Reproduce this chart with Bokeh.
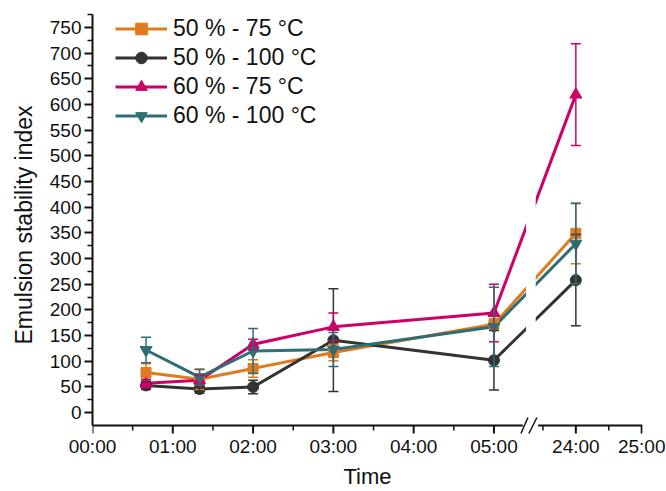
from bokeh.plotting import figure
from bokeh.models import (FixedTicker, Whisker, ColumnDataSource, Legend,
                          LegendItem, TeeHead)
from bokeh.embed import file_html
from bokeh.resources import INLINE

# ---------------- data ----------------
time_min = [40, 80, 120, 180, 300, 1440]          # sampling times (minutes)

series_names = ["50 % - 75 °C", "50 % - 100 °C", "60 % - 75 °C", "60 % - 100 °C"]

esi_50_75 = [78, 65, 86, 117, 172, 349]
err_50_75 = [17, 20, 17, 16, 11, 59]

esi_50_100 = [53, 46, 50, 141, 102, 258]
err_50_100 = [8, 8, 13, 100, 58, 89]

esi_60_75 = [57, 63, 133, 167, 194, 619]
err_60_75 = [8, 10, 10, 27, 56, 99]

esi_60_100 = [122, 69, 120, 123, 167, 329]
err_60_100 = [25, 15, 44, 33, 77, 78]

tick_hours = [0, 1, 2, 3, 4, 5, 24, 25]
tick_labels = ["00:00", "01:00", "02:00", "03:00", "04:00", "05:00", "24:00", "25:00"]
minor_hours = [0.5, 1.5, 2.5, 3.5, 4.5, 23.5, 24.5]
x_title = "Time"
y_title = "Emulsion stability index"
y_ticks = list(range(0, 751, 50))
y_minor = list(range(25, 776, 50))

# ---------------- broken x-axis mapping ----------------
RIGHT_ORIGIN = 6.02   # axis position of 24:00
RIGHT_SCALE = 0.82    # compression of the segment after the break
LEFT_END = 5.36       # end of first axis segment
RIGHT_START = 5.55    # start of second axis segment
GAP_L, GAP_R = 5.40, 5.52


def to_axis(hours):
    if hours <= 6:
        return hours
    return RIGHT_ORIGIN + (hours - 24) * RIGHT_SCALE


W, H = 666, 491
LEFT, TOP, RIGHT = 92, 14, 24
AXIS_PX = 425                      # pixel row of the x-axis line
FRAME_BOTTOM = 435                 # frame ends a little below the axis line
Y_AXIS, Y1 = -25, 775
UPP = (Y1 - Y_AXIS) / (AXIS_PX - TOP)          # y data units per pixel
Y0 = Y_AXIS - (FRAME_BOTTOM - AXIS_PX) * UPP
X0, X1 = 0, to_axis(25) + 0.01

colors = ["#E07A1F", "#333333", "#CC0066", "#2F6E74"]
markers = ["square", "circle", "triangle", "inverted_triangle"]
msizes = [10, 11, 12, 12]
values = [esi_50_75, esi_50_100, esi_60_75, esi_60_100]
errors = [err_50_75, err_50_100, err_60_75, err_60_100]

p = figure(width=W, height=H, output_backend="svg", toolbar_location=None,
           x_range=(X0, X1), y_range=(Y0, Y1),
           min_border_left=LEFT, min_border_right=RIGHT, min_border_top=TOP,
           min_border_bottom=H - FRAME_BOTTOM)
p.outline_line_color = None
p.xgrid.visible = False
p.ygrid.visible = False

xs = [to_axis(m / 60.0) for m in time_min]

line_renderers = []
for vals, col in zip(values, colors):
    src = ColumnDataSource(dict(x=xs, y=vals))
    line_renderers.append(p.line("x", "y", source=src, line_color=col, line_width=3))

# white gap at the axis break
p.quad(left=[GAP_L], right=[GAP_R], bottom=[Y_AXIS + 2], top=[Y1],
       fill_color="white", line_color=None)

legend_items = []
for name, vals, errs, col, mk, ms, lr in zip(series_names, values, errors, colors,
                                             markers, msizes, line_renderers):
    src = ColumnDataSource(dict(x=xs, y=vals,
                                lower=[v - e for v, e in zip(vals, errs)],
                                upper=[v + e for v, e in zip(vals, errs)]))
    w = Whisker(source=src, base="x", upper="upper", lower="lower",
                line_color=col, line_width=1.5,
                upper_head=TeeHead(size=10, line_color=col, line_width=1.5),
                lower_head=TeeHead(size=10, line_color=col, line_width=1.5))
    w.level = "glyph"
    p.add_layout(w)
    mr = p.scatter("x", "y", source=src, marker=mk, size=ms,
                   fill_color=col, line_color=col)
    legend_items.append(LegendItem(label=name, renderers=[lr, mr]))

legend = Legend(items=legend_items, location=(23, FRAME_BOTTOM - TOP - 116))
legend.border_line_color = None
legend.background_fill_alpha = 0
legend.padding = 0
legend.margin = 0
legend.spacing = 0
legend.glyph_width = 52
legend.glyph_height = 29
legend.label_height = 29
legend.label_standoff = 6
legend.label_text_font = "Liberation Sans"
legend.label_text_font_size = "23px"
legend.label_text_color = "#111111"
p.add_layout(legend)

# ---------------- x axis (broken) ----------------
maj_x = [to_axis(h) for h in tick_hours]
min_x = [to_axis(h) for h in minor_hours]

xa = p.xaxis[0]
xa.ticker = FixedTicker(ticks=maj_x, minor_ticks=[])
xa.major_label_overrides = {x: lab for x, lab in zip(maj_x, tick_labels)}
xa.axis_line_color = None
xa.major_tick_line_color = None
xa.minor_tick_line_color = None
xa.major_tick_out = 0
xa.major_tick_in = 0
xa.minor_tick_out = 0
xa.minor_tick_in = 0
xa.major_label_standoff = 0
xa.major_label_text_font = "Liberation Sans"
xa.major_label_text_font_size = "19px"
xa.major_label_text_color = "#111111"
xa.axis_label = x_title
xa.axis_label_standoff = 4
xa.axis_label_text_font = "Liberation Sans"
xa.axis_label_text_font_size = "22px"
xa.axis_label_text_font_style = "normal"
xa.axis_label_text_color = "#111111"

# axis line segments, ticks and break marks drawn in the frame
p.segment(x0=[X0, RIGHT_START], y0=[Y_AXIS, Y_AXIS],
          x1=[LEFT_END, X1], y1=[Y_AXIS, Y_AXIS],
          line_color="#111111", line_width=2)
p.segment(x0=maj_x, y0=[Y_AXIS] * len(maj_x), x1=maj_x,
          y1=[Y_AXIS - 8 * UPP] * len(maj_x), line_color="#111111", line_width=2)
p.segment(x0=min_x, y0=[Y_AXIS] * len(min_x), x1=min_x,
          y1=[Y_AXIS - 5 * UPP] * len(min_x), line_color="#111111", line_width=1.5)
p.segment(x0=[5.336, 5.435], y0=[Y_AXIS - 8 * UPP] * 2, x1=[5.423, 5.535],
          y1=[Y_AXIS + 8 * UPP] * 2, line_color="#111111", line_width=1.5)

# ---------------- y axis ----------------
ya = p.yaxis[0]
ya.ticker = FixedTicker(ticks=y_ticks, minor_ticks=y_minor)
ya.bounds = (Y_AXIS, Y1)
ya.axis_label = y_title
ya.axis_line_width = 2
ya.axis_line_color = "#111111"
ya.major_tick_in = 0
ya.major_tick_out = 8
ya.minor_tick_in = 0
ya.minor_tick_out = 5
ya.major_tick_line_width = 2
ya.minor_tick_line_width = 1.5
ya.major_tick_line_color = "#111111"
ya.minor_tick_line_color = "#111111"
ya.major_label_text_font = "Liberation Sans"
ya.major_label_text_font_size = "19px"
ya.major_label_text_color = "#111111"
ya.major_label_standoff = 3
ya.axis_label_text_font = "Liberation Sans"
ya.axis_label_text_font_size = "23px"
ya.axis_label_text_font_style = "normal"
ya.axis_label_text_color = "#111111"
ya.axis_label_standoff = 10

open("out.html", "w").write(file_html(p, INLINE))
